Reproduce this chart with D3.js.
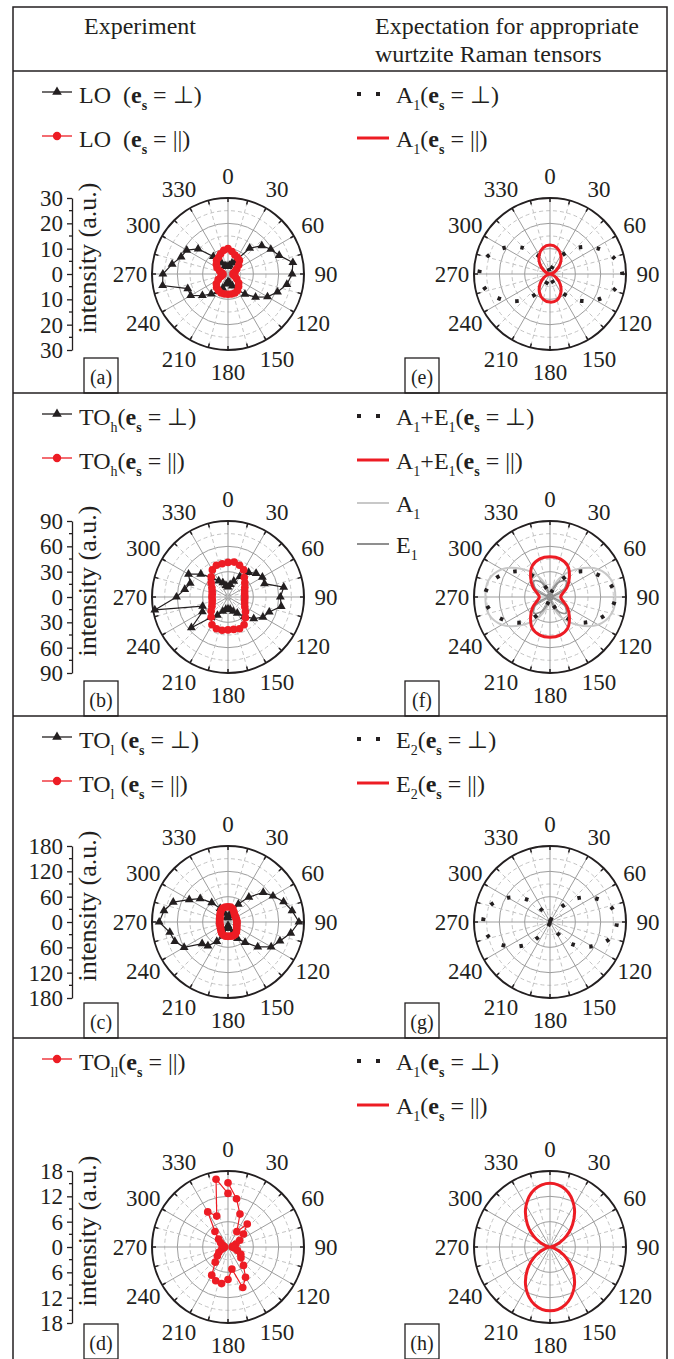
<!DOCTYPE html>
<html>
<head>
<meta charset="utf-8">
<script src="https://cdn.jsdelivr.net/npm/d3@7"></script>
<style>
  body { margin: 0; background: #fff; }
  svg text { font-family: "Liberation Serif", "Times New Roman", serif; fill: #231f20; }
</style>
</head>
<body>
<svg id="fig" width="674" height="1359"></svg>
<script>
// ---- data ----
var ANG10 = [0,10,20,30,40,50,60,70,80,90,100,110,120,130,140,150,160,170,
             180,190,200,210,220,230,240,250,260,270,280,290,300,310,320,330,340,350];
var ANG10_360 = ANG10.concat([360]);
var ANG15 = [0,15,30,45,60,75,90,105,120,135,150,165,180,195,210,225,240,255,270,285,300,315,330,345];
var ANGLE_LABELS = [0,30,60,90,120,150,180,210,240,270,300,330];

// experiment, intensity (a.u.)
var loPerp  = [3,3.5,4.6,6,13.3,17.4,19.5,21.5,26,25.3,23.6,20.8,18,14.2,10.4,7,5,3.5,
               3,4,6,8,10.3,13.2,17,16.9,26.2,25.7,22.4,19.7,18.8,15.4,9,5,3.5,3];
var loPar   = [10,9,8,7.5,7,5.5,4,3,2.2,2,2.2,3,4,5.5,6.5,7.5,8,8,
               8,8,8,7.5,7,6,4.5,3,2.2,2,2.5,3.5,5,6,7,7.5,8.5,9.5];
var toHPerp = [12,15,20,28,38,43.5,47,46,67,62,64,52,47.8,39.8,30,22,18,15,
               14,15,18,25,31.6,56.6,35,32,88,61,52,47.6,54,42,30,22,18,14];
var toHPar  = [41,42,40,37,30,26,23,21,20,20,20,21,23,27,32,38,40,39,
               39,40,40,38,31,26,22,20,19,19,19,20,22,26,31,37,40,40];
var toLPerp = [10,15,30,49,77,109,123,140,154,168,151,131,118,92,63,45,30,15,
               8,15,35,53,74,80,120,134,140,163,154,138,106,86,60,37,22,12];
var toLPar  = [36,36,33,28,24,22,21,21,21,21,21,22,24,27,31,34,35,34,
               34,34,33,30,26,23,21,20,20,20,20,21,22,25,28,32,35,36];
var toLLPar = [15.2,11.6,8.3,4.2,7.1,4.8,3.2,2,1.2,1,1.5,2.4,3.5,4,5.7,8.3,10.2,5.3,
               7.7,8.8,8.5,7.7,4.7,3.3,2.5,1.6,1,0.8,1,1.5,2,2.9,4.8,9.6,7.8,16.3,12.7];

// expectation, relative to outer ring
var eA1Perp = [0,0.07,0.25,0.48,0.69,0.86,0.95,0.86,0.69,0.48,0.25,0.07,
               0,0.07,0.25,0.48,0.69,0.86,0.93,0.86,0.69,0.48,0.25,0.07];
var eA1Par  = [0.38,0.355,0.285,0.19,0.095,0.025,0,0.025,0.095,0.19,0.285,0.355,
               0.37,0.345,0.278,0.185,0.093,0.025,0,0.025,0.095,0.19,0.285,0.355];
var fPerp   = [0,0.06,0.22,0.46,0.64,0.79,0.86,0.79,0.64,0.46,0.22,0.06,
               0,0.06,0.22,0.46,0.64,0.79,0.86,0.79,0.64,0.46,0.22,0.06];
var fPar    = [0.53,0.52,0.47,0.36,0.26,0.17,0.14,0.17,0.26,0.36,0.47,0.52,
               0.53,0.52,0.47,0.36,0.26,0.17,0.14,0.17,0.26,0.36,0.47,0.52];
var fA1     = [0.03,0.12,0.32,0.52,0.73,0.84,0.86,0.84,0.73,0.52,0.32,0.12,
               0.03,0.12,0.32,0.52,0.73,0.84,0.85,0.84,0.73,0.52,0.32,0.12];
var fE1     = [0,0.06,0.22,0.30,0.22,0.06,0,0.06,0.22,0.30,0.22,0.06,
               0,0.06,0.22,0.30,0.22,0.06,0,0.06,0.22,0.30,0.22,0.06];
var gPerp   = [0,0.02,0.13,0.41,0.64,0.82,0.88,0.82,0.64,0.41,0.13,0.02,
               0,0.02,0.13,0.41,0.64,0.82,0.88,0.82,0.64,0.41,0.13,0.02];
var hPar    = [0.84,0.784,0.63,0.42,0.21,0.056,0,0.056,0.21,0.42,0.63,0.784,
               0.84,0.784,0.63,0.42,0.21,0.056,0,0.056,0.21,0.42,0.63,0.784];

// radial axis ticks of the experiment panels
var ticksA = [-30,-20,-10,0,10,20,30];
var ticksB = [-90,-60,-30,0,30,60,90];
var ticksC = [-180,-120,-60,0,60,120,180];
var ticksD = [-18,-12,-6,0,6,12,18];

// legend texts: [text, style]
var PERP = [["e","b"],["s","bs"],[" = \u22A5)",""]];
var PAR  = [["e","b"],["s","bs"],[" = ||)",""]];
var legA = [[["LO  (",""]].concat(PERP), [["LO  (",""]].concat(PAR)];
var legB = [[["TO",""],["h","s"],["(",""]].concat(PERP), [["TO",""],["h","s"],["(",""]].concat(PAR)];
var legC = [[["TO",""],["l","s"],[" (",""]].concat(PERP), [["TO",""],["l","s"],[" (",""]].concat(PAR)];
var legD = [[["TO",""],["ll","s"],["(",""]].concat(PAR)];
var legE = [[["A",""],["1","s"],["(",""]].concat(PERP), [["A",""],["1","s"],["(",""]].concat(PAR)];
var legF = [[["A",""],["1","s"],["+E",""],["1","s"],["(",""]].concat(PERP),
            [["A",""],["1","s"],["+E",""],["1","s"],["(",""]].concat(PAR),
            [["A",""],["1","s"]], [["E",""],["1","s"]]];
var legG = [[["E",""],["2","s"],["(",""]].concat(PERP), [["E",""],["2","s"],["(",""]].concat(PAR)];

// ---- layout ----
var R = 76;
var COLX = [228, 550];
var ROWTOP = [71, 393, 716, 1038];
var ROWBOT = [393, 716, 1038, 1359];
var CY = [274, 597, 922, 1247];
var RED = "#ed1c24";

var svg = d3.select("#fig");

// frame
svg.append("rect").attr("x", 13).attr("y", 7).attr("width", 654).attr("height", 1360)
  .attr("fill", "none").attr("stroke", "#231f20").attr("stroke-width", 1.5);
ROWTOP.forEach(function(y) {
  svg.append("line").attr("x1", 13).attr("x2", 667).attr("y1", y).attr("y2", y)
    .attr("stroke", "#231f20").attr("stroke-width", 1.5);
});
svg.append("text").attr("x", 84).attr("y", 34).attr("font-size", 24).text("Experiment");
svg.append("text").attr("x", 375).attr("y", 34).attr("font-size", 24).text("Expectation for appropriate");
svg.append("text").attr("x", 375).attr("y", 62).attr("font-size", 24).text("wurtzite Raman tensors");

function rich(sel, parts) {
  var shift = 0;
  parts.forEach(function(p) {
    var sub = p[1] === "s" || p[1] === "bs";
    var t = sel.append("tspan").text(p[0]);
    var want = sub ? 7 : 0;
    if (want !== shift) { t.attr("dy", want - shift); shift = want; }
    if (sub) t.attr("font-size", 14);
    if (p[1] === "b" || p[1] === "bs") t.attr("font-weight", "bold");
  });
}

function polarFrame(cx, cy) {
  var g = svg.append("g").attr("transform", "translate(" + cx + "," + cy + ")");
  [1/6, 1/2, 5/6].forEach(function(f) {
    g.append("circle").attr("r", R * f).attr("fill", "none")
      .attr("stroke", "#c4c4c4").attr("stroke-dasharray", "4,3");
  });
  [1/3, 2/3].forEach(function(f) {
    g.append("circle").attr("r", R * f).attr("fill", "none").attr("stroke", "#9d9d9d");
  });
  ANG15.forEach(function(a) {
    var t = a * Math.PI / 180, major = a % 30 === 0;
    g.append("line").attr("x1", 0).attr("y1", 0)
      .attr("x2", R * Math.sin(t)).attr("y2", -R * Math.cos(t))
      .attr("stroke", major ? "#9d9d9d" : "#c4c4c4")
      .attr("stroke-dasharray", major ? null : "4,3");
    g.append("line")
      .attr("x1", (R - 4) * Math.sin(t)).attr("y1", -(R - 4) * Math.cos(t))
      .attr("x2", R * Math.sin(t)).attr("y2", -R * Math.cos(t))
      .attr("stroke", "#231f20").attr("stroke-width", 1.5);
  });
  g.append("circle").attr("r", R).attr("fill", "none").attr("stroke", "#231f20").attr("stroke-width", 2);
  ANGLE_LABELS.forEach(function(a) {
    var t = a * Math.PI / 180;
    g.append("text").attr("x", 98 * Math.sin(t)).attr("y", -98 * Math.cos(t))
      .attr("text-anchor", "middle").attr("dy", "0.35em").attr("font-size", 23).text(a);
  });
  return g;
}

function radialAxis(cy, ticks) {
  var max = ticks[ticks.length - 1];
  var y = d3.scaleLinear().domain([-max, max]).range([cy + R, cy - R]);
  var ax = svg.append("g").attr("transform", "translate(72,0)")
    .call(d3.axisLeft(y).tickValues(ticks).tickFormat(function(d) { return Math.abs(d); })
      .tickSize(5).tickSizeOuter(0).tickPadding(4));
  ax.selectAll("text").attr("font-size", 23).attr("font-family", null);
  ax.selectAll("line,path").attr("stroke", "#231f20").attr("stroke-width", 1.3);
  var step = ticks[1] - ticks[0];
  ticks.slice(1).forEach(function(v) {
    ax.append("line").attr("x1", -3).attr("x2", 0)
      .attr("y1", y(v - step / 2)).attr("y2", y(v - step / 2))
      .attr("stroke", "#231f20").attr("stroke-width", 1.3);
  });
  svg.append("text").attr("transform", "translate(96," + (cy - 16) + ") rotate(-90)")
    .attr("text-anchor", "middle").attr("font-size", 26).text("intensity (a.u.)");
}

function expSeries(g, angles, vals, max, kind) {
  var r = d3.scaleLinear().domain([0, max]).range([0, R]);
  var pts = angles.map(function(a, i) { return { a: a, v: vals[i] }; });
  var col = kind === "tri" ? "#231f20" : RED;
  var line = d3.lineRadial().angle(function(d) { return d.a * Math.PI / 180; })
    .radius(function(d) { return r(d.v); });
  if (angles[angles.length - 1] < 360) line.curve(d3.curveLinearClosed);
  g.append("path").datum(pts).attr("d", line).attr("fill", "none").attr("stroke", col).attr("stroke-width", 1.2);
  var sym = d3.symbol().type(kind === "tri" ? d3.symbolTriangle : d3.symbolCircle).size(kind === "tri" ? 34 : 46);
  g.selectAll(null).data(pts).enter().append("path").attr("d", sym).attr("fill", col)
    .attr("transform", function(d) {
      var t = d.a * Math.PI / 180;
      return "translate(" + r(d.v) * Math.sin(t) + "," + (-r(d.v) * Math.cos(t)) + ")";
    });
}

function theoSeries(g, vals, style) {
  var r = d3.scaleLinear().domain([0, 1]).range([0, R]);
  var pts = ANG15.map(function(a, i) { return { a: a, v: vals[i] }; });
  var p = g.append("path").datum(pts)
    .attr("d", d3.lineRadial().angle(function(d) { return d.a * Math.PI / 180; })
      .radius(function(d) { return r(d.v); }).curve(d3.curveCatmullRomClosed))
    .attr("fill", "none");
  if (style === "dotted") p.attr("stroke", "#231f20").attr("stroke-width", 4).attr("stroke-dasharray", "3.5,14.5");
  if (style === "red") p.attr("stroke", RED).attr("stroke-width", 3);
  if (style === "lgray") p.attr("stroke", "#c8c8c8").attr("stroke-width", 2);
  if (style === "dgray") p.attr("stroke", "#8f8f8f").attr("stroke-width", 1.6);
}

function legend(col, row, items, kinds) {
  var offs = [32, 76, 119, 160];
  items.forEach(function(parts, i) {
    var yb = ROWTOP[row] + offs[i], ym = yb - 11;
    var k = kinds[i];
    if (col === 0) {
      var c = k === "tri" ? "#231f20" : RED;
      svg.append("line").attr("x1", 42).attr("x2", 72).attr("y1", ym).attr("y2", ym).attr("stroke", c).attr("stroke-width", 1.3);
      svg.append("path").attr("d", d3.symbol().type(k === "tri" ? d3.symbolTriangle : d3.symbolCircle).size(k === "tri" ? 40 : 55))
        .attr("transform", "translate(57," + ym + ")").attr("fill", c);
      rich(svg.append("text").attr("x", 79).attr("y", yb).attr("font-size", 24).style("white-space", "pre"), parts);
    } else {
      var l = svg.append("line").attr("x1", 357).attr("x2", 389).attr("y1", ym + 2).attr("y2", ym + 2);
      if (k === "dotted") l.attr("x2", 381).attr("stroke", "#231f20").attr("stroke-width", 4).attr("stroke-dasharray", "4,15");
      if (k === "red") l.attr("stroke", RED).attr("stroke-width", 3);
      if (k === "lgray") l.attr("stroke", "#c8c8c8").attr("stroke-width", 2);
      if (k === "dgray") l.attr("stroke", "#8f8f8f").attr("stroke-width", 2);
      rich(svg.append("text").attr("x", 396).attr("y", yb).attr("font-size", 24).style("white-space", "pre"), parts);
    }
  });
}

function panelLabel(col, row, txt) {
  var x = col === 0 ? 84 : 405, yb = ROWBOT[row];
  svg.append("rect").attr("x", x).attr("y", yb - 35).attr("width", 34).attr("height", 35)
    .attr("fill", "none").attr("stroke", "#231f20").attr("stroke-width", 1.3);
  svg.append("text").attr("x", x + 17).attr("y", yb - 9).attr("text-anchor", "middle")
    .attr("font-size", 20).text(txt);
}

// ---- experiment column ----
var gA = polarFrame(COLX[0], CY[0]);
expSeries(gA, ANG10, loPerp, 30, "tri");
expSeries(gA, ANG10, loPar, 30, "dot");
radialAxis(CY[0], ticksA);
legend(0, 0, legA, ["tri", "dot"]);
panelLabel(0, 0, "(a)");

var gB = polarFrame(COLX[0], CY[1]);
expSeries(gB, ANG10, toHPerp, 90, "tri");
expSeries(gB, ANG10, toHPar, 90, "dot");
radialAxis(CY[1], ticksB);
legend(0, 1, legB, ["tri", "dot"]);
panelLabel(0, 1, "(b)");

var gC = polarFrame(COLX[0], CY[2]);
expSeries(gC, ANG10, toLPerp, 180, "tri");
expSeries(gC, ANG10, toLPar, 180, "dot");
radialAxis(CY[2], ticksC);
legend(0, 2, legC, ["tri", "dot"]);
panelLabel(0, 2, "(c)");

var gD = polarFrame(COLX[0], CY[3]);
expSeries(gD, ANG10_360, toLLPar, 18, "dot");
radialAxis(CY[3], ticksD);
legend(0, 3, legD, ["dot"]);
panelLabel(0, 3, "(d)");

// ---- expectation column ----
var gE = polarFrame(COLX[1], CY[0]);
theoSeries(gE, eA1Perp, "dotted");
theoSeries(gE, eA1Par, "red");
legend(1, 0, legE, ["dotted", "red"]);
panelLabel(1, 0, "(e)");

var gF = polarFrame(COLX[1], CY[1]);
theoSeries(gF, fA1, "lgray");
theoSeries(gF, fE1, "dgray");
gF.append("circle").attr("r", 3).attr("fill", "none").attr("stroke", "#8f8f8f").attr("stroke-width", 1.4);
theoSeries(gF, fPerp, "dotted");
theoSeries(gF, fPar, "red");
legend(1, 1, legF, ["dotted", "red", "lgray", "dgray"]);
panelLabel(1, 1, "(f)");

var gG = polarFrame(COLX[1], CY[2]);
theoSeries(gG, gPerp, "dotted");
gG.append("circle").attr("r", 2).attr("fill", "#231f20");
legend(1, 2, legG, ["dotted", "red"]);
panelLabel(1, 2, "(g)");

var gH = polarFrame(COLX[1], CY[3]);
theoSeries(gH, hPar, "red");
legend(1, 3, legE, ["dotted", "red"]);
panelLabel(1, 3, "(h)");
</script>
</body>
</html>
